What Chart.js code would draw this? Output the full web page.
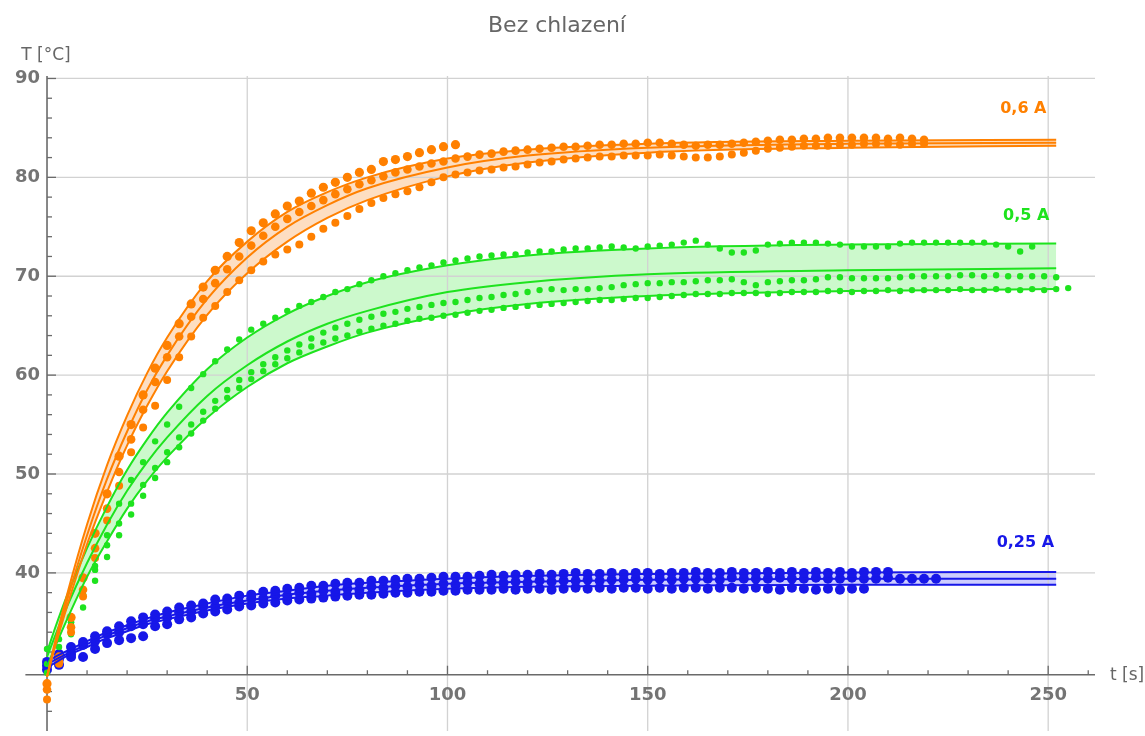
<!DOCTYPE html>
<html lang="cs">

<head>
    <meta charset="UTF-8">
    <title>Bez chlazení</title>
    <script src="https://cdn.jsdelivr.net/npm/chart.js"></script>
    <style>
        body {
            margin: 0;
            padding: 0;
            background-color: #fff;
        }

        canvas {
            display: block;
        }
    </style>
</head>

<body>

    <canvas id="chart" width="1145" height="736"></canvas>

    <script>
        // measurement times [s] (every 3 s)
        const tMeas = [0, 3, 6, 9, 12, 15, 18, 21, 24, 27, 30, 33, 36, 39, 42, 45, 48, 51, 54, 57,
            60, 63, 66, 69, 72, 75, 78, 81, 84, 87, 90, 93, 96, 99, 102, 105, 108, 111, 114, 117,
            120, 123, 126, 129, 132, 135, 138, 141, 144, 147, 150, 153, 156, 159, 162, 165, 168, 171, 174, 177,
            180, 183, 186, 189, 192, 195, 198, 201, 204, 207, 210, 213, 216, 219, 222, 225, 228, 231, 234, 237,
            240, 243, 246, 249, 252, 255];

        // 0,6 A measurements
        const orange1 = [28.8, 31.5, 35.5, 39.5, 44.0, 48.0, 51.8, 55.0, 58.0, 60.7,
            63.0, 65.2, 67.2, 68.9, 70.6, 72.0, 73.4, 74.6, 75.4, 76.3,
            77.1, 77.6, 78.4, 79.0, 79.5, 80.0, 80.5, 80.8, 81.6, 81.8,
            82.1, 82.5, 82.8, 83.1, 83.3];
        const orange2 = [28.2, 31.0, 34.5, 38.3, 42.5, 46.5, 50.2, 53.5, 56.5, 59.3,
            61.8, 63.9, 65.9, 67.7, 69.3, 70.7, 72.0, 73.1, 74.1, 75.0,
            75.8, 76.5, 77.1, 77.7, 78.3, 78.8, 79.3, 79.7, 80.1, 80.5,
            80.8, 81.1, 81.4, 81.6, 81.9, 82.1, 82.3, 82.4, 82.6, 82.7,
            82.8, 82.9, 83.0, 83.1, 83.1, 83.2, 83.3, 83.3, 83.4, 83.4,
            83.5, 83.5, 83.4, 83.3, 83.2, 83.3, 83.3, 83.4, 83.5, 83.6,
            83.7, 83.8, 83.8, 83.9, 83.9, 84.0, 84.0, 84.0, 84.0, 84.0,
            83.9, 84.0, 83.9, 83.8];
        const orange3 = [27.2, 30.8, 34.0, 37.6, 41.5, 45.3, 48.8, 52.2, 54.7, 56.9,
            59.5, 61.8, 63.9, 65.8, 67.0, 68.4, 69.6, 70.6, 71.5, 72.2,
            72.7, 73.2, 74.0, 74.8, 75.4, 76.1, 76.8, 77.4, 77.9, 78.3,
            78.6, 79.0, 79.5, 80.0, 80.3, 80.5, 80.7, 80.8, 81.0, 81.1,
            81.3, 81.5, 81.6, 81.8, 81.9, 82.0, 82.1, 82.1, 82.2, 82.2,
            82.2, 82.3, 82.2, 82.1, 82.0, 82.0, 82.1, 82.3, 82.5, 82.7,
            82.9, 83.0, 83.1, 83.2, 83.2, 83.2, 83.3, 83.3, 83.4, 83.4,
            83.4, 83.3, 83.4, 83.4];

        // 0,5 A measurements
        const green1 = [32.3, 33.3, 35.0, 37.8, 40.7, 43.8, 47.0, 49.4, 51.2, 53.3,
            55.0, 56.8, 58.7, 60.1, 61.4, 62.6, 63.6, 64.6, 65.2, 65.8,
            66.5, 67.0, 67.4, 67.9, 68.4, 68.7, 69.2, 69.6, 70.0, 70.3,
            70.6, 70.9, 71.1, 71.4, 71.6, 71.8, 72.0, 72.1, 72.2, 72.2,
            72.4, 72.5, 72.5, 72.7, 72.8, 72.8, 72.9, 73.0, 72.9, 72.8,
            73.0, 73.1, 73.2, 73.4, 73.6, 73.2, 72.8, 72.4, 72.4, 72.6,
            73.2, 73.3, 73.4, 73.4, 73.4, 73.3, 73.2, 73.0, 73.0, 73.0,
            73.0, 73.3, 73.4, 73.4, 73.4, 73.4, 73.4, 73.4, 73.4, 73.2,
            73.0, 72.5, 73.0];
        const green2 = [30.8, 32.5, 35.0, 37.8, 40.3, 42.8, 45.0, 47.0, 48.9, 50.6,
            52.2, 53.7, 55.0, 56.3, 57.4, 58.5, 59.5, 60.3, 61.1, 61.8,
            62.5, 63.1, 63.7, 64.3, 64.8, 65.2, 65.6, 65.9, 66.2, 66.4,
            66.7, 66.9, 67.1, 67.3, 67.4, 67.6, 67.8, 67.9, 68.1, 68.2,
            68.4, 68.6, 68.7, 68.6, 68.7, 68.7, 68.8, 68.9, 69.1, 69.2,
            69.3, 69.3, 69.4, 69.4, 69.5, 69.6, 69.6, 69.7, 69.4, 69.1,
            69.4, 69.5, 69.6, 69.6, 69.7, 69.9, 69.9, 69.8, 69.8, 69.8,
            69.8, 69.9, 70.0, 70.0, 70.0, 70.0, 70.1, 70.1, 70.0, 70.1,
            70.0, 70.0, 70.0, 70.0, 69.9];
        const green3 = [29.9, 31.5, 33.8, 36.5, 39.2, 41.6, 43.8, 45.9, 47.8, 49.6,
            51.2, 52.7, 54.1, 55.4, 56.6, 57.7, 58.7, 59.6, 60.4, 61.1,
            61.7, 62.3, 62.9, 63.3, 63.7, 64.0, 64.4, 64.7, 65.0, 65.2,
            65.5, 65.7, 65.8, 66.0, 66.1, 66.3, 66.5, 66.6, 66.8, 66.9,
            67.0, 67.1, 67.2, 67.3, 67.4, 67.5, 67.6, 67.6, 67.7, 67.8,
            67.8, 67.9, 68.0, 68.1, 68.2, 68.2, 68.2, 68.3, 68.3, 68.3,
            68.2, 68.3, 68.4, 68.4, 68.4, 68.5, 68.5, 68.4, 68.5, 68.5,
            68.6, 68.5, 68.6, 68.6, 68.6, 68.6, 68.7, 68.6, 68.6, 68.7,
            68.6, 68.6, 68.7, 68.6, 68.7, 68.8];

        // 0,25 A measurements
        const blue1 = [31.0, 31.8, 32.5, 33.0, 33.6, 34.1, 34.6, 35.1, 35.5, 35.8,
            36.1, 36.5, 36.7, 36.9, 37.3, 37.4, 37.7, 37.8, 38.1, 38.2,
            38.4, 38.5, 38.7, 38.7, 38.9, 39.0, 39.0, 39.2, 39.2, 39.3,
            39.4, 39.4, 39.5, 39.6, 39.6, 39.6, 39.7, 39.8, 39.7, 39.8,
            39.8, 39.9, 39.8, 39.9, 40.0, 39.9, 39.9, 40.0, 39.9, 40.0,
            40.0, 39.9, 40.0, 40.0, 40.1, 40.0, 40.0, 40.1, 40.0, 40.0,
            40.1, 40.0, 40.1, 40.0, 40.1, 40.0, 40.1, 40.0, 40.1, 40.1,
            40.1];
        const blue2 = [30.6, 31.3, 31.8, 32.7, 33.1, 33.8, 34.0, 34.6, 34.8, 35.4,
            35.5, 36.0, 36.1, 36.6, 36.6, 37.0, 37.0, 37.4, 37.4, 37.7,
            37.7, 38.0, 37.9, 38.2, 38.1, 38.4, 38.3, 38.6, 38.5, 38.7,
            38.6, 38.8, 38.7, 38.9, 38.8, 39.0, 38.9, 39.1, 39.0, 39.1,
            39.0, 39.2, 39.1, 39.2, 39.2, 39.3, 39.2, 39.3, 39.3, 39.4,
            39.3, 39.4, 39.3, 39.4, 39.4, 39.4, 39.3, 39.5, 39.4, 39.4,
            39.4, 39.5, 39.4, 39.4, 39.5, 39.4, 39.4, 39.5, 39.4, 39.4,
            39.5, 39.4, 39.4, 39.4, 39.4];
        const blue3 = [30.2, 30.7, 31.5, 31.5, 32.3, 32.9, 33.2, 33.4, 33.6, 34.6,
            34.8, 35.3, 35.5, 35.9, 36.1, 36.3, 36.6, 36.7, 36.9, 37.0,
            37.2, 37.3, 37.4, 37.5, 37.6, 37.7, 37.8, 37.8, 37.9, 38.0,
            38.0, 38.1, 38.1, 38.2, 38.2, 38.3, 38.3, 38.3, 38.4, 38.3,
            38.4, 38.4, 38.3, 38.4, 38.5, 38.4, 38.5, 38.4, 38.5, 38.5,
            38.4, 38.5, 38.4, 38.5, 38.5, 38.4, 38.5, 38.5, 38.4, 38.5,
            38.4, 38.3, 38.5, 38.4, 38.3, 38.4, 38.3, 38.4, 38.4];

        // fitted curves, read at these times
        const tFit = [0, 2, 5, 10, 15, 20, 25, 30, 40, 50, 60, 70, 80, 100, 120, 150, 200, 252];
        const orangeFitHi = [29.5, 33.0, 37.8, 44.9, 50.9, 55.9, 60.2, 63.8, 69.5, 73.5, 76.5, 78.5, 80.0, 81.9, 82.8, 83.4, 83.7, 83.8];
        const orangeFitMid = [29.5, 32.7, 37.2, 43.8, 49.5, 54.3, 58.5, 62.0, 67.7, 71.9, 75.0, 77.2, 78.9, 81.0, 82.2, 83.0, 83.4, 83.5];
        const orangeFitLo = [29.5, 32.5, 36.6, 42.9, 48.2, 52.9, 56.9, 60.4, 66.1, 70.3, 73.5, 75.9, 77.7, 80.1, 81.5, 82.5, 83.0, 83.2];
        const greenFitHi = [32.0, 34.4, 37.7, 42.5, 46.7, 50.4, 53.5, 56.2, 60.6, 63.8, 66.2, 68.0, 69.4, 71.1, 72.1, 72.8, 73.2, 73.3];
        const greenFitMid = [31.5, 33.6, 36.6, 41.0, 44.9, 48.3, 51.2, 53.7, 57.9, 61.0, 63.4, 65.2, 66.5, 68.4, 69.4, 70.2, 70.6, 70.8];
        const greenFitLo = [30.5, 32.5, 35.3, 39.6, 43.2, 46.5, 49.3, 51.7, 55.7, 58.8, 61.2, 62.9, 64.3, 66.1, 67.2, 68.0, 68.5, 68.7];
        const blueFitHi = [31.0, 31.5, 32.1, 33.1, 34.0, 34.7, 35.4, 36.0, 36.9, 37.7, 38.2, 38.7, 39.0, 39.4, 39.7, 39.9, 40.05, 40.1];
        const blueFitMid = [30.7, 31.2, 31.8, 32.8, 33.7, 34.4, 35.1, 35.6, 36.5, 37.2, 37.8, 38.2, 38.5, 38.9, 39.1, 39.3, 39.4, 39.4];
        const blueFitLo = [30.4, 30.9, 31.6, 32.5, 33.4, 34.1, 34.8, 35.3, 36.2, 36.9, 37.4, 37.7, 38.0, 38.4, 38.6, 38.7, 38.8, 38.8];

        // axes
        const xTicks = [50, 100, 150, 200, 250];
        const yTicks = [40, 50, 60, 70, 80, 90];
        const axisCrossT = 29.7;

        const ORANGE = '#ff8000';
        const GREEN = '#1ee31e';
        const BLUE = '#1717e8';

        const curveLabels = [
            { text: '0,6 A', t: 243.8, T: 86.55, color: ORANGE },
            { text: '0,5 A', t: 244.5, T: 75.65, color: GREEN },
            { text: '0,25 A', t: 244.3, T: 42.6, color: BLUE }
        ];

        function toPoints(times, values) {
            return values.map((v, i) => ({ x: times[i], y: v }));
        }

        function fitSet(values, color, fill, fillColor) {
            return {
                data: toPoints(tFit, values),
                borderColor: color,
                borderWidth: 2,
                pointRadius: 0,
                cubicInterpolationMode: 'monotone',
                fill: fill,
                backgroundColor: fillColor,
                order: 1
            };
        }

        function dotSet(values, color, r) {
            return {
                data: toPoints(tMeas, values),
                showLine: false,
                pointRadius: r,
                pointBorderWidth: 0,
                pointBackgroundColor: color,
                borderColor: color,
                fill: false,
                order: 2
            };
        }

        const orangeFill = 'rgb(253, 222, 194)';
        const greenFill = 'rgb(204, 249, 204)';
        const blueFill = 'rgb(205, 205, 255)';

        const datasets = [
            fitSet(orangeFitHi, ORANGE, '+2', orangeFill),
            fitSet(orangeFitMid, ORANGE, false),
            fitSet(orangeFitLo, ORANGE, false),
            fitSet(greenFitHi, GREEN, '+2', greenFill),
            fitSet(greenFitMid, GREEN, false),
            fitSet(greenFitLo, GREEN, false),
            fitSet(blueFitHi, BLUE, '+2', blueFill),
            fitSet(blueFitMid, BLUE, false),
            fitSet(blueFitLo, BLUE, false),
            dotSet(orange1, ORANGE, 4.6),
            dotSet(orange2, ORANGE, 4.3),
            dotSet(orange3, ORANGE, 4.0),
            dotSet(green1, GREEN, 3.2),
            dotSet(green2, GREEN, 3.2),
            dotSet(green3, GREEN, 3.2),
            dotSet(blue1, BLUE, 5),
            dotSet(blue2, BLUE, 5),
            dotSet(blue3, BLUE, 5)
        ];

        function seg(ctx, x1, y1, x2, y2) {
            ctx.beginPath();
            ctx.moveTo(x1, y1);
            ctx.lineTo(x2, y2);
            ctx.stroke();
        }

        // grid, axes and ticks drawn Mathematica-style (axes crossing inside the plot)
        const axesPlugin = {
            id: 'axesPlugin',
            beforeDatasetsDraw(chart) {
                const { ctx, chartArea: a, scales: { x, y } } = chart;
                const x0 = x.getPixelForValue(0);
                const y0 = y.getPixelForValue(axisCrossT);
                ctx.save();

                ctx.strokeStyle = '#d2d2d2';
                ctx.lineWidth = 1.3;
                xTicks.forEach(v => {
                    const px = x.getPixelForValue(v);
                    seg(ctx, px, a.top, px, a.bottom);
                });
                yTicks.forEach(v => {
                    const py = y.getPixelForValue(v);
                    seg(ctx, x0, py, a.right, py);
                });

                ctx.strokeStyle = '#6a6a6a';
                ctx.lineWidth = 1.6;
                seg(ctx, x.getPixelForValue(-5.4), y0, a.right, y0);
                seg(ctx, x0, a.top, x0, a.bottom);

                ctx.lineWidth = 1.3;
                for (let v = 10; v <= 260; v += 10) {
                    const px = x.getPixelForValue(v);
                    const len = xTicks.includes(v) ? 9 : 4.5;
                    seg(ctx, px, y0, px, y0 - len);
                }
                for (let v = 26; v <= 90; v += 2) {
                    if (v === 30) continue;
                    const py = y.getPixelForValue(v);
                    const len = yTicks.includes(v) ? 9 : 5;
                    seg(ctx, x0, py, x0 + len, py);
                }
                ctx.restore();
            },
            afterDatasetsDraw(chart) {
                const { ctx, scales: { x, y } } = chart;
                const x0 = x.getPixelForValue(0);
                const y0 = y.getPixelForValue(axisCrossT);
                ctx.save();

                ctx.fillStyle = '#747474';
                ctx.font = 'bold 18px "DejaVu Sans"';
                ctx.textBaseline = 'alphabetic';
                ctx.textAlign = 'center';
                xTicks.forEach(v => ctx.fillText(String(v), x.getPixelForValue(v), y0 + 25));
                ctx.textAlign = 'right';
                yTicks.forEach(v => ctx.fillText(String(v), x0 - 7, y.getPixelForValue(v) + 5));

                ctx.fillStyle = '#666';
                ctx.font = '17px "DejaVu Sans"';
                ctx.textAlign = 'center';
                ctx.fillText('T [°C]', x0 - 1, 59.5);
                ctx.textAlign = 'left';
                ctx.fillText('t [s]', 1110, y0 + 5);

                ctx.font = '22px "DejaVu Sans"';
                ctx.textAlign = 'center';
                ctx.fillText('Bez chlazení', 557, 31.5);

                ctx.font = 'bold 16px "DejaVu Sans"';
                curveLabels.forEach(l => {
                    ctx.fillStyle = l.color;
                    ctx.fillText(l.text, x.getPixelForValue(l.t), y.getPixelForValue(l.T));
                });
                ctx.restore();
            }
        };

        new Chart(document.getElementById('chart'), {
            type: 'line',
            data: { datasets: datasets },
            options: {
                responsive: false,
                devicePixelRatio: 1,
                animation: false,
                events: [],
                layout: { padding: { left: 0, right: 50, top: 76, bottom: 0 } },
                scales: {
                    x: { type: 'linear', min: -10.49, max: 261.69, display: false },
                    y: { type: 'linear', min: 24.01, max: 90.25, display: false }
                },
                plugins: {
                    legend: { display: false },
                    tooltip: { enabled: false },
                    filler: { drawTime: 'beforeDatasetsDraw' }
                }
            },
            plugins: [axesPlugin]
        });
    </script>

</body>
</html>
